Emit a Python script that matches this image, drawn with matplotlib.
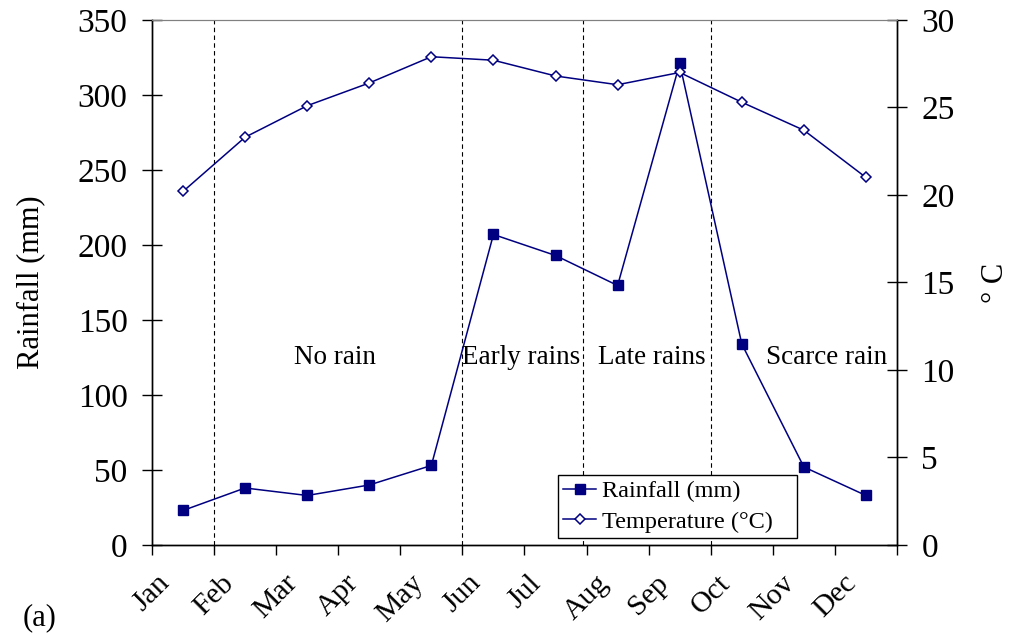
import matplotlib
matplotlib.use('Agg')
import matplotlib.pyplot as plt
import numpy as np

plt.rcParams['font.family'] = ['Liberation Serif', 'DejaVu Serif']

months = ['Jan', 'Feb', 'Mar', 'Apr', 'May', 'Jun',
          'Jul', 'Aug', 'Sep', 'Oct', 'Nov', 'Dec']
rainfall = [23, 38, 33, 40, 53, 207, 193, 173, 321, 134, 52, 33]
temperature = [20.2, 23.3, 25.1, 26.4, 27.9, 27.7, 26.8, 26.3, 27.0, 25.3, 23.7, 21.0]

# season boundaries (in month-index units) and labels
season_bounds = [0.5, 4.5, 6.45, 8.5]
season_names = ['No rain', 'Early rains', 'Late rains', 'Scarce rain']
season_label_x = [2.45, 5.45, 7.55, 10.37]
season_label_y = 125

navy = '#000080'

fig = plt.figure(figsize=(10.13, 6.34), dpi=100)
ax = fig.add_axes([0.150, 0.1404, 0.7355, 0.8281])
ax2 = ax.twinx()

x = np.arange(len(months))

for b in season_bounds:
    ax.axvline(b, color='black', linestyle=(0, (4, 3)), linewidth=0.8, zorder=1)

l1, = ax.plot(x, rainfall, color=navy, linewidth=1.1, marker='s',
              markersize=6.5, markerfacecolor=navy, markeredgecolor=navy,
              label='Rainfall (mm)', zorder=3)
l2, = ax2.plot(x, temperature, color=navy, linewidth=1.1, marker='D',
               markersize=5.5, markerfacecolor='white', markeredgecolor=navy,
               markeredgewidth=1.1, label='Temperature (°C)', zorder=3)

for name, sx in zip(season_names, season_label_x):
    ax.text(sx, season_label_y, name, ha='center', va='center', fontsize=19.5)

ax.set_xlim(-0.5, 11.5)
ax.set_ylim(0, 350)
ax2.set_ylim(0, 30)

ax.set_xticks(np.arange(-0.5, 12, 1.0))
ax.set_xticklabels(months + [''], rotation=45, ha='center', fontsize=21.5)
ax.tick_params(axis='x', direction='out', length=7, width=1, pad=11)

ax.set_yticks(np.arange(0, 351, 50))
ax.tick_params(axis='y', direction='inout', length=15, width=1, labelsize=24, pad=10)
ax2.set_yticks(np.arange(0, 31, 5))
ax2.tick_params(axis='y', direction='inout', length=15, width=1, labelsize=24, pad=10)

for a in (ax, ax2):
    a.spines['top'].set_color('#808080')
    for s in ('left', 'right', 'bottom'):
        a.spines[s].set_color('black')
        a.spines[s].set_linewidth(1)

ax.set_ylabel('Rainfall (mm)', fontsize=22, labelpad=23)
ax2.set_ylabel('° C', fontsize=22, labelpad=19)

leg = ax2.legend([l1, l2], ['Rainfall (mm)', 'Temperature (°C)'],
                 loc='lower left', bbox_to_anchor=(0.545, 0.013, 0.321, 0.12),
                 mode='expand', fontsize=17.5, frameon=True, fancybox=False,
                 handlelength=1.35, handletextpad=0.25, labelspacing=0.35,
                 borderpad=0.22, borderaxespad=0)
leg.get_frame().set_edgecolor('black')
leg.get_frame().set_linewidth(1)
leg.get_frame().set_alpha(1)
leg.set_zorder(10)

fig.text(0.039, 0.025, '(a)', fontsize=22, ha='center', va='center')

fig.savefig('out.png', dpi=100)
plt.close(fig)
